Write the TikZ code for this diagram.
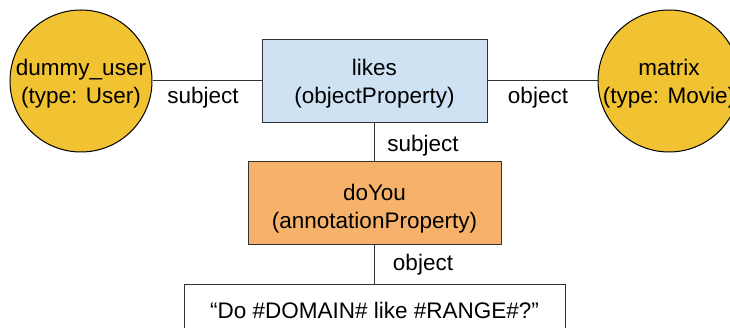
\documentclass[tikz,border=0pt]{standalone}
\usepackage{fontspec}
\setmainfont{Liberation Sans}
\definecolor{cyellow}{HTML}{F1C232}
\definecolor{cblue}{HTML}{CFE2F3}
\definecolor{corange}{HTML}{F6B26B}
\definecolor{cline}{HTML}{333333}
\tikzset{
  txt/.style={font=\fontsize{22.5}{28}\selectfont, text=black},
  entity/.style={circle, draw=black, line width=1pt, fill=cyellow, minimum size=142pt, inner sep=0pt},
  propbox/.style={rectangle, draw=cline, line width=1pt, inner sep=0pt},
  inner/.style={inner sep=0pt, align=center, txt},
  conn/.style={draw=cline, line width=1pt},
  lbl/.style={inner sep=0pt, txt},
}
\begin{document}
\begin{tikzpicture}[x=1pt,y=-1pt]
\useasboundingbox (0,0) rectangle (730,328);
\clip (0,0) rectangle (730,328);
\fill[white] (0,0) rectangle (730,328);
\node[entity] (du) at (81,81) {};
\node[entity] (mx) at (669,81) {};
\node[propbox, fill=cblue, minimum width=225pt, minimum height=83pt] (likes) at (374.5,81) {};
\node[propbox, fill=corange, minimum width=253pt, minimum height=83pt] (doyou) at (374.5,203.5) {};
\node[propbox, fill=white, minimum width=381pt, minimum height=50pt, anchor=north] (str) at (374.5,284) {};
\node[inner] (dut) at ([yshift=-3pt]du.center) {dummy\_user\\(type: User)};
\node[inner] (mxt) at ([yshift=-3pt]mx.center) {matrix\\(type: Movie)};
\node[inner] (likest) at ([yshift=-3pt]likes.center) {likes\\(objectProperty)};
\node[inner] (doyout) at ([yshift=-5pt]doyou.center) {doYou\\(annotationProperty)};
\node[inner] (strt) at ([yshift=-1pt]str.center) {“Do \#DOMAIN\# like \#RANGE\#?”};
\draw[conn] (du) -- (likes);
\draw[conn] (likes) -- (mx);
\draw[conn] (likes) -- (doyou);
\draw[conn] (doyou) -- (str);
\node[lbl] (l1) at (203,98) {subject};
\node[lbl] (l2) at (538,98) {object};
\node[lbl] (l3) at (423,146) {subject};
\node[lbl] (l4) at (423,265) {object};
\end{tikzpicture}
\end{document}
